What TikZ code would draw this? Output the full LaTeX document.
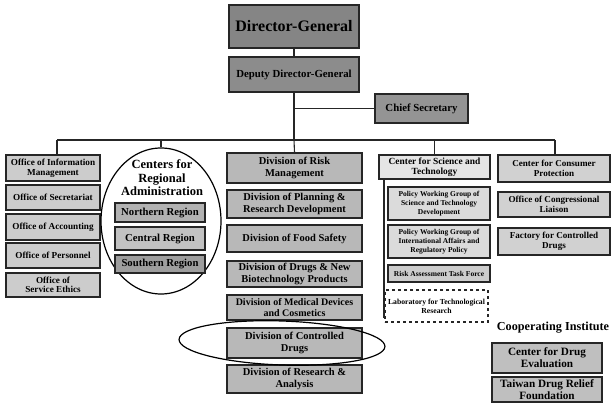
\documentclass[tikz,border=0pt]{standalone}
\usepackage{fontspec}
\setmainfont{Liberation Serif}
\usetikzlibrary{shapes.geometric}
\begin{document}
\begin{tikzpicture}[x=1pt,y=-1pt,
  box/.style={draw=black!85,line width=1.1pt,align=center,inner sep=1pt,font=\bfseries},
  ofc/.style={box,fill=black!20,minimum width=94pt,font=\bfseries\fontsize{9.2}{9.6}\selectfont},
  reg/.style={box,fill=black!32,minimum width=90pt,font=\bfseries\fontsize{10.7}{11.5}\selectfont},
  div/.style={box,fill=black!28,minimum width=135pt,font=\bfseries\fontsize{10.5}{11.2}\selectfont},
  sci/.style={box,fill=black!14,minimum width=102pt,font=\bfseries\fontsize{7.5}{9}\selectfont},
  con/.style={box,fill=black!18,minimum width=112pt,font=\bfseries\fontsize{9.1}{10.6}\selectfont},
  coop/.style={box,fill=black!25,minimum width=110pt,font=\bfseries\fontsize{11.2}{12}\selectfont},
  ring/.style={draw=black,line width=1.2pt,ellipse,inner sep=0pt},
  wire/.style={draw=black!85,line width=1.1pt}]
\useasboundingbox (0,0) rectangle (613,403);
% top
\node[box,fill=black!48,minimum width=130pt,minimum height=43pt,font=\bfseries\fontsize{16}{18}\selectfont] (dg) at (294,26.5) {Director-General};
\node[box,fill=black!45,minimum width=130pt,minimum height=35pt,font=\bfseries\fontsize{10.8}{12}\selectfont] (dep) at (294,74.5) {Deputy Director-General};
\node[box,fill=black!42,minimum width=93pt,minimum height=29pt,font=\bfseries\fontsize{10.8}{12}\selectfont] (cs) at (421.5,108.5) {Chief Secretary};
% column 1
\node[ofc,minimum height=26pt] (oim) at (53,168) {Office of Information\\Management};
\node[ofc,minimum height=25pt] (osec) at (53,197.5) {Office of Secretariat};
\node[ofc,minimum height=26pt] (oacc) at (53,227) {Office of Accounting};
\node[ofc,minimum height=25pt] (oper) at (53,255.5) {Office of Personnel};
\node[ofc,minimum height=24pt] (oeth) at (53,285) {Office of\\Service Ethics};
% column 2
\node[ring,minimum width=120pt,minimum height=146pt] (regring) at (161,221) {};
\node[align=center,inner sep=0pt,font=\bfseries\fontsize{12.5}{13.5}\selectfont] (cra) at (162,178) {Centers for\\Regional\\Administration};
\node[reg,fill=black!30,minimum height=19pt] (nreg) at (160,212.5) {Northern Region};
\node[reg,fill=black!24,minimum height=23pt] (creg) at (160,238.5) {Central Region};
\node[reg,fill=black!38,minimum height=18pt] (sreg) at (160,264) {Southern Region};
% column 3
\node[div,minimum height=30pt] (drm) at (294.5,168) {Division of Risk\\Management};
\node[div,minimum height=28pt] (dprd) at (294.5,204) {Division of Planning \&\\Research Development};
\node[div,minimum height=27pt] (dfs) at (294.5,238.5) {Division of Food Safety};
\node[div,minimum height=26pt] (ddnb) at (294.5,274) {Division of Drugs \& New\\Biotechnology Products};
\node[div,minimum height=25pt,font=\bfseries\fontsize{10}{11}\selectfont] (dmdc) at (294.5,307.5) {Division of Medical Devices\\and Cosmetics};
\node[div,minimum height=30pt] (dcd) at (294.5,343) {Division of Controlled\\Drugs};
\node[div,minimum height=28pt] (dra) at (294.5,379) {Division of Research \&\\Analysis};
\node[ring,minimum width=206pt,minimum height=44pt,rotate=-2] (cdring) at (282,343) {};
% column 4
\node[box,fill=black!10,minimum width=111pt,minimum height=24pt,font=\bfseries\fontsize{9.4}{10.4}\selectfont] (cst) at (434.5,167) {Center for Science and\\Technology};
\node[sci,minimum height=33pt] (pwg1) at (439,203.5) {Policy Working Group of\\Science and Technology\\Development};
\node[sci,minimum height=33pt] (pwg2) at (439,241.5) {Policy Working Group of\\International Affairs and\\Regulatory Policy};
\node[sci,fill=black!20,minimum height=17pt,font=\bfseries\fontsize{7.5}{8.5}\selectfont] (ratf) at (439,273.5) {Risk Assessment Task Force};
\node[sci,fill=white,dashed,minimum width=103pt,minimum height=32pt,font=\bfseries\fontsize{7.7}{9}\selectfont] (lab) at (436.5,306) {Laboratory for Technological\\Research};
\coordinate (stl) at (384,318);
\draw[wire] (cst.south -| stl) -- (stl);
% column 5
\node[con,minimum height=27pt] (ccp) at (554,168.5) {Center for Consumer\\Protection};
\node[con,minimum height=25pt] (ocl) at (554,204.5) {Office of Congressional\\Liaison};
\node[con,minimum height=27pt] (fcd) at (554,241.5) {Factory for Controlled\\Drugs};
% cooperating
\node[inner sep=0pt,font=\bfseries\fontsize{12.2}{13}\selectfont] (coopt) at (553,328) {Cooperating Institute};
\node[coop,minimum height=30pt] (cde) at (547,358) {Center for Drug\\Evaluation};
\node[coop,minimum height=25pt] (tdrf) at (547,389.5) {Taiwan Drug Relief\\Foundation};
% connectors
\coordinate (hl) at (57,140);
\coordinate (hr) at (555,140);
\coordinate (hm) at (294,140);
\draw[wire] (dg) -- (dep);
\draw[wire] (dep.south) -- (hm);
\draw[wire] (dep.south |- cs.west) -- (cs.west);
\draw[wire] (hl) -- (hr);
\draw[wire] (hl) -- (hl |- oim.north);
\draw[wire] (hm -| regring.north) -- (regring.north);
\draw[wire] (hm) -- (drm.north);
\draw[wire] (hm -| cst.north) -- (cst.north);
\draw[wire] (hr) -- (hr |- ccp.north);
\end{tikzpicture}
\end{document}
